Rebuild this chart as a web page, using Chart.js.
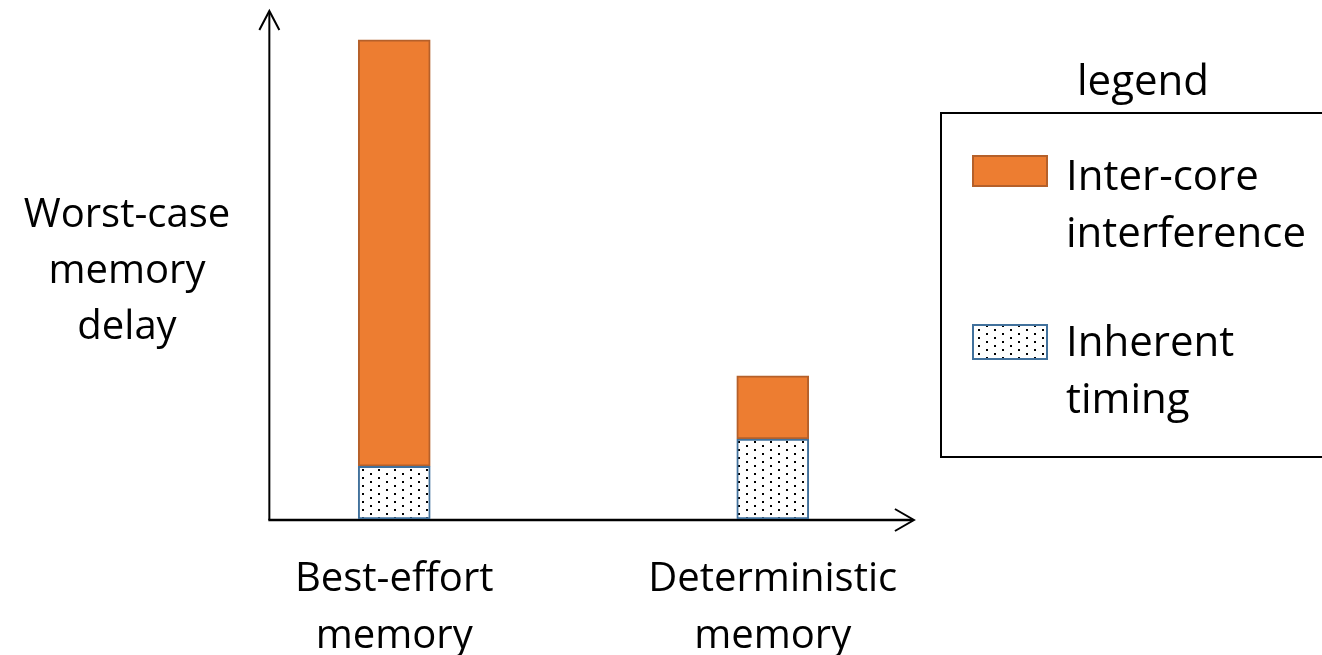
<!DOCTYPE html>
<html>
<head>
<meta charset="utf-8">
<title>Worst-case memory delay</title>
<script src="https://cdn.jsdelivr.net/npm/chart.js@4.4.1/dist/chart.umd.min.js"></script>
<style>
  html, body { margin: 0; padding: 0; background: #fff; }
  #wrap { width: 1322px; height: 655px; position: relative; overflow: hidden; }
</style>
</head>
<body>
<div id="wrap"><canvas id="chart"></canvas></div>
<script>
// Chart data (arbitrary units)
const categories = [['Best-effort', 'memory'], ['Deterministic', 'memory']];
const inherentTiming = [11, 16.7];
const interCoreInterference = [89, 13.2];
const seriesLabels = [['Inherent', 'timing'], ['Inter-core', 'interference']];
const yTitle = ['Worst-case', 'memory', 'delay'];
const legendTitle = 'legend';

const FONT = '"Open Sans", Lato, sans-serif';

// sparse dotted fill (staggered dots)
function makeDots() {
  const c = document.createElement('canvas');
  c.width = 16; c.height = 8;
  const g = c.getContext('2d');
  g.fillStyle = '#fff';
  g.fillRect(0, 0, 16, 8);
  g.fillStyle = '#000';
  g.fillRect(2, 1, 2, 2);
  g.fillRect(10, 5, 2, 2);
  return g.createPattern(c, 'repeat');
}
const dots = makeDots();

// axes with open arrow heads, drawn under the bars
const arrowAxes = {
  id: 'arrowAxes',
  beforeDatasetsDraw(chart, args, opts) {
    const { ctx, scales: { x, y } } = chart;
    const x0 = x.getPixelForValue(opts.start);
    const x1 = x.getPixelForValue(opts.end);
    const yb = y.getPixelForValue(0);
    const yt = chart.chartArea.top;
    ctx.save();
    ctx.strokeStyle = '#000';
    // y axis
    ctx.lineWidth = 2;
    ctx.beginPath();
    ctx.moveTo(x0, yb + 1);
    ctx.lineTo(x0, yt + 1);
    ctx.stroke();
    ctx.beginPath();
    ctx.moveTo(x0 - 10, yt + 19);
    ctx.lineTo(x0, yt);
    ctx.lineTo(x0 + 10, yt + 19);
    ctx.stroke();
    // x axis
    ctx.lineWidth = 2.5;
    ctx.beginPath();
    ctx.moveTo(x0 - 1, yb + 1);
    ctx.lineTo(x1 - 1, yb + 1);
    ctx.stroke();
    ctx.lineWidth = 2;
    ctx.beginPath();
    ctx.moveTo(x1 - 19, yb - 10);
    ctx.lineTo(x1, yb + 1);
    ctx.lineTo(x1 - 19, yb + 12);
    ctx.stroke();
    ctx.restore();
  }
};

// y title (horizontal, three lines) and boxed legend
const sideTexts = {
  id: 'sideTexts',
  afterDraw(chart) {
    const { ctx } = chart;
    ctx.save();
    ctx.fillStyle = '#000';
    ctx.textBaseline = 'alphabetic';

    ctx.font = '40px ' + FONT;
    ctx.textAlign = 'center';
    yTitle.forEach((t, i) => ctx.fillText(t, 127, 227 + i * 56));

    ctx.font = '42px ' + FONT;
    ctx.fillText(legendTitle, 1143, 95);

    ctx.lineWidth = 2;
    ctx.strokeStyle = '#000';
    ctx.strokeRect(941, 113, 400, 344);

    const items = chart.data.datasets.slice().reverse();
    const rows = [{ top: 156, h: 30, base: 190 }, { top: 325, h: 34, base: 356 }];
    ctx.textAlign = 'left';
    items.forEach((ds, i) => {
      const r = rows[i];
      ctx.fillStyle = ds.backgroundColor;
      ctx.fillRect(973, r.top, 74, r.h);
      ctx.lineWidth = 2;
      ctx.strokeStyle = ds.borderColor;
      ctx.strokeRect(973, r.top, 74, r.h);
      ctx.fillStyle = '#000';
      ds.label.forEach((t, j) => ctx.fillText(t, 1066, r.base + j * 57));
    });
    ctx.restore();
  }
};

const ctx = document.getElementById('chart').getContext('2d');
new Chart(ctx, {
  type: 'bar',
  data: {
    labels: categories,
    datasets: [
      {
        label: seriesLabels[0],
        data: inherentTiming,
        backgroundColor: dots,
        borderColor: '#41719C',
        borderWidth: 2,
        borderSkipped: false,
        barThickness: 72
      },
      {
        label: seriesLabels[1],
        data: interCoreInterference,
        backgroundColor: '#ED7D31',
        borderColor: '#B5602A',
        borderWidth: 2,
        borderSkipped: false,
        barThickness: 72
      }
    ]
  },
  options: {
    responsive: true,
    maintainAspectRatio: false,
    animation: false,
    events: [],
    layout: { padding: { left: 205, right: 360, top: 11, bottom: 0 } },
    plugins: {
      legend: { display: false },
      tooltip: { enabled: false },
      arrowAxes: { start: -0.33, end: 1.373 }
    },
    scales: {
      x: {
        stacked: true,
        grid: { display: false },
        border: { display: false },
        ticks: {
          color: '#000',
          maxRotation: 0,
          autoSkip: false,
          padding: 24,
          font: { family: FONT, size: 40, lineHeight: 1.42 }
        },
        afterFit(scale) { scale.height = 136; }
      },
      y: {
        stacked: true,
        display: false,
        min: 0,
        max: 106
      }
    }
  },
  plugins: [arrowAxes, sideTexts]
});
</script>
</body>
</html>
